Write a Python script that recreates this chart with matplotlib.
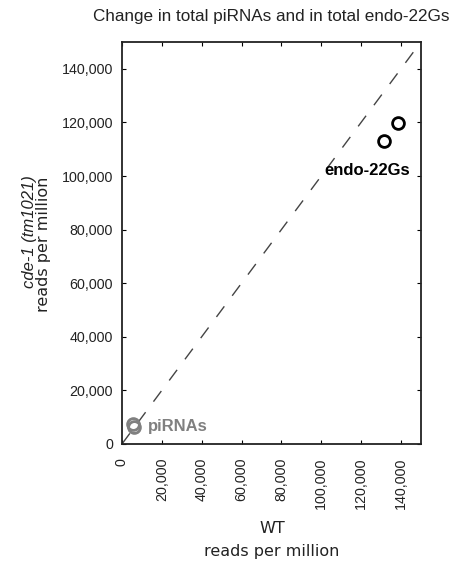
import matplotlib
matplotlib.use("Agg")
import matplotlib.pyplot as plt

plt.rcParams['font.family'] = ['Liberation Sans', 'DejaVu Sans']

# total reads per million, WT vs cde-1(tm1021)
endo_wt = [131500, 138500]
endo_cde1 = [113000, 119700]
pirna_wt = [5500, 6000]
pirna_cde1 = [7600, 6300]

ticks = [0, 20000, 40000, 60000, 80000, 100000, 120000, 140000]
tick_labels = ['0', '20,000', '40,000', '60,000', '80,000', '100,000', '120,000', '140,000']
lim = 150000

fig = plt.figure(figsize=(4.62, 5.64), dpi=100)
ax = fig.add_axes([0.264, 0.2128, 0.647, 0.7127])

# y = x reference
ax.plot([0, lim], [0, lim], color='#444444', lw=1.0, dashes=(9.5, 9.5))

ax.plot(endo_wt, endo_cde1, 'o', ms=8.5, mfc='none', mec='black', mew=2.0)
ax.plot(pirna_wt, pirna_cde1, 'o', ms=8.5, mfc='none', mec='#808080', mew=2.0)

ax.text(144500, 102000, 'endo-22Gs', ha='right', va='center', fontsize=12,
        fontweight='bold', color='black')
ax.text(13000, 6400, 'piRNAs', ha='left', va='center', fontsize=12,
        fontweight='bold', color='#808080')

ax.set_xlim(0, lim)
ax.set_ylim(0, lim)
ax.set_xticks(ticks)
ax.set_yticks(ticks)
ax.set_xticklabels(tick_labels, rotation=90, fontsize=10.3, color='#222222')
ax.set_yticklabels(tick_labels, fontsize=10.3, color='#222222')
ax.tick_params(direction='in', length=3, width=0.8, top=True, right=True)
ax.tick_params(axis='y', pad=6.5)
ax.tick_params(axis='x', pad=10)
for s in ax.spines.values():
    s.set_linewidth(1.3)
    s.set_color('#222222')

lab = dict(family='DejaVu Sans', fontsize=11.5, color='#222222')
fig.text(0.589, 0.0638, 'WT', ha='center', va='center', **lab)
fig.text(0.589, 0.023, 'reads per million', ha='center', va='center', **lab)
fig.text(0.0628, 0.69, 'cde-1 (tm1021)', rotation=90, ha='center', va='top',
         style='italic', family='Liberation Sans', fontsize=12, color='#222222')
fig.text(0.0952, 0.566, 'reads per million', rotation=90, ha='center', va='center',
         **lab)

fig.text(0.587, 0.971, 'Change in total piRNAs and in total endo-22Gs', ha='center',
         va='center', fontsize=12.3, color='#222222')

fig.savefig('out.png', dpi=100)
